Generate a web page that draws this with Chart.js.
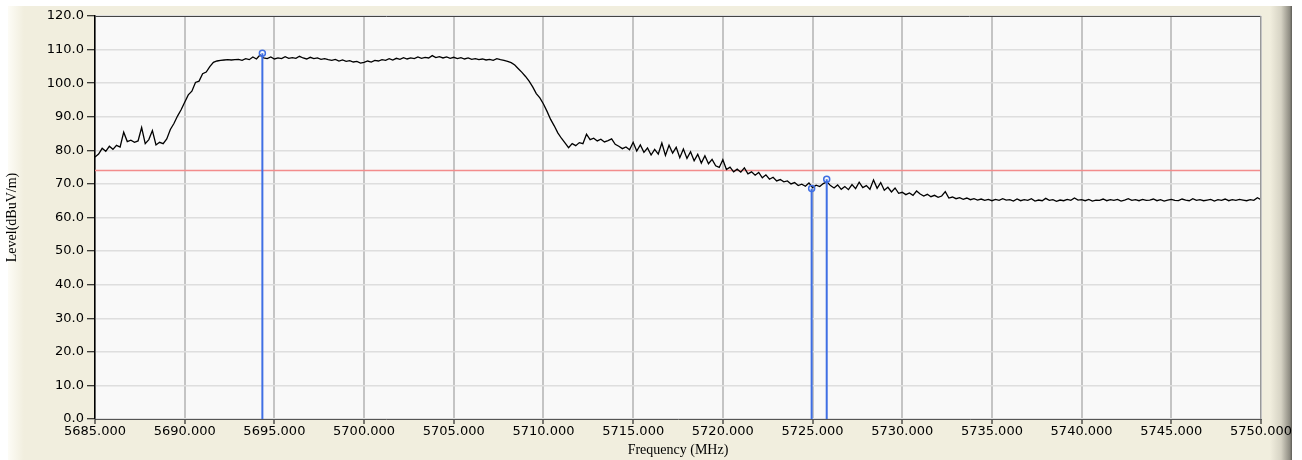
<!DOCTYPE html>
<html>
<head>
<meta charset="utf-8">
<script src="https://cdn.jsdelivr.net/npm/chart.js@4.4.1/dist/chart.umd.min.js"></script>
<style>
  html, body { margin: 0; padding: 0; background: #fff; }
  #wrap { width: 1302px; height: 460px; }
</style>
</head>
<body>
<div id="wrap"><canvas id="spectrum" width="1302" height="460"></canvas></div>
<script>
// trace sampled every 0.2 MHz from 5685.000 to 5750.000
const freqStart = 5685;
const freqStep = 0.2;
const levels = [
  78.0, 78.9, 80.6, 79.7, 81.2,
  80.3, 81.5, 81.0, 85.4, 82.6,
  83.0, 82.4, 82.8, 86.8, 82.0,
  83.2, 85.9, 81.6, 82.4, 82.0,
  83.4, 86.2, 88.0, 90.2, 92.1,
  94.3, 96.5, 97.6, 100.2, 100.6,
  102.8, 103.3, 104.9, 106.2, 106.6,
  106.8, 106.9, 107.0, 106.9, 107.0,
  107.1, 106.8, 107.3, 107.0, 107.8,
  107.2, 108.4, 107.5, 107.3, 107.8,
  107.2, 107.5, 107.3, 107.9, 107.4,
  107.6, 107.4, 108.0, 107.5, 107.2,
  107.7, 107.3, 107.5, 107.1, 107.3,
  107.0, 106.8, 107.1, 106.6, 106.9,
  106.5, 106.7, 106.3, 106.5, 106.0,
  106.2, 106.6, 106.3, 106.8, 106.6,
  107.0, 106.8, 107.3, 106.9, 107.4,
  107.1, 107.6, 107.2, 107.5, 107.3,
  107.8, 107.4, 107.7, 107.5, 108.2,
  107.6, 107.9, 107.5, 107.8, 107.4,
  107.7, 107.3, 107.6, 107.2, 107.5,
  107.1, 107.3, 107.0, 107.2, 106.9,
  107.1, 106.8, 107.3, 107.0, 106.8,
  106.5, 106.1, 105.4, 104.3, 103.2,
  102.0, 100.6, 98.9, 96.9, 95.6,
  93.8, 91.6, 89.2, 87.3, 85.2,
  83.6, 82.2, 80.8, 82.0, 81.4,
  82.3, 82.0, 84.8, 83.2, 83.6,
  82.8, 83.3, 82.5, 82.9, 83.4,
  81.8, 81.2, 80.5, 81.0, 80.2,
  82.4, 79.8, 81.6, 79.4, 80.7,
  78.6, 80.3, 78.9, 82.2, 78.5,
  81.5, 79.2, 80.9, 77.8, 80.4,
  77.6, 79.6, 76.9, 78.8, 76.2,
  78.4, 76.0, 77.3, 75.4, 74.9,
  77.2, 74.3, 75.0, 73.6, 74.4,
  73.5, 74.8, 73.0, 73.6, 72.6,
  73.4, 71.8, 72.7, 71.4, 72.0,
  70.9, 71.3, 70.6, 70.9, 70.0,
  70.4, 69.5, 69.9, 69.3, 70.3,
  68.9, 69.6, 69.2, 70.1, 70.6,
  69.5, 68.8, 69.7, 68.4, 69.2,
  68.3, 69.8, 68.6, 70.5, 68.9,
  69.5, 68.4, 71.2, 68.7, 70.4,
  68.1, 69.0, 67.6, 68.8, 67.2,
  67.5, 66.8, 67.3, 66.6, 67.9,
  67.0, 66.4, 66.9, 66.2, 66.6,
  66.0, 66.4, 67.7, 65.8, 66.1,
  65.6, 65.9, 65.4, 65.8, 65.3,
  65.6, 65.2, 65.5, 65.1, 65.4,
  65.0, 65.4, 65.1, 65.6, 65.2,
  65.3, 64.9, 65.5, 65.0, 65.3,
  65.1, 65.6, 64.9, 65.2, 65.0,
  65.7, 65.1, 65.3, 64.8, 65.2,
  65.0, 65.4, 65.1, 65.8, 65.2,
  65.3, 65.0, 65.4, 64.9, 65.2,
  65.1, 65.5, 65.0, 65.3, 65.1,
  65.4, 64.9, 65.2, 65.6, 65.1,
  65.3, 65.0, 65.4, 65.1, 65.2,
  65.5, 65.0, 65.3, 64.9, 65.2,
  65.4, 65.1, 65.0, 65.5, 65.2,
  65.0, 65.6, 65.1, 65.3, 65.0,
  65.2, 65.4, 64.9, 65.3, 65.1,
  65.5, 65.0, 65.3, 65.1, 65.4,
  65.2, 65.0, 65.3, 65.1, 65.9,
  65.3
];

const markerFreqs = [5694.33, 5724.95, 5725.79];
const markerLevels = [108.9, 68.6, 71.4];

const limitLevel = 74.0;

const xTicks = [5685, 5690, 5695, 5700, 5705, 5710, 5715, 5720, 5725, 5730, 5735, 5740, 5745, 5750];
const yTicks = [0, 10, 20, 30, 40, 50, 60, 70, 80, 90, 100, 110, 120];

const freqs = levels.map((_, i) => +(freqStart + i * freqStep).toFixed(1));
const trace = levels.map((v, i) => ({ x: freqs[i], y: v }));

const BLUE = '#3f6fe4';

let datasets = [];
markerFreqs.forEach((f, i) => {
  datasets.push({
    data: [{ x: f, y: 0 }, { x: f, y: markerLevels[i] }],
    borderColor: BLUE,
    borderWidth: 2,
    pointRadius: [0, 3],
    pointBorderColor: BLUE,
    pointBackgroundColor: 'rgba(0,0,0,0)',
    pointBorderWidth: 1.5,
    order: 1
  });
});
datasets.push({
  data: [{ x: xTicks[0], y: limitLevel }, { x: xTicks[xTicks.length - 1], y: limitLevel }],
  borderColor: '#f28c8c',
  borderWidth: 1.5,
  pointRadius: 0,
  order: 3
});
datasets.push({
  data: trace,
  borderColor: '#000',
  borderWidth: 1.3,
  pointRadius: 0,
  order: 2
});

// beige panel, plot background and box
const frame = {
  id: 'frame',
  beforeDraw(chart) {
    const ctx = chart.ctx;
    const a = chart.chartArea;
    ctx.save();
    ctx.fillStyle = '#fff';
    ctx.fillRect(0, 0, chart.width, chart.height);
    ctx.fillStyle = '#f1eede';
    ctx.fillRect(8, 6, 1262, chart.height - 6);
    let g = ctx.createLinearGradient(8, 0, 24, 0);
    g.addColorStop(0, '#fdfcf6');
    g.addColorStop(1, '#f1eede');
    ctx.fillStyle = g;
    ctx.fillRect(8, 6, 16, chart.height - 6);
    g = ctx.createLinearGradient(1270, 0, 1292, 0);
    g.addColorStop(0, '#f1eede');
    g.addColorStop(0.5, '#d6d3c4');
    g.addColorStop(0.9, '#8e8c82');
    g.addColorStop(1, '#5c5b55');
    ctx.fillStyle = g;
    ctx.fillRect(1270, 6, 22, chart.height - 6);
    ctx.fillStyle = '#f9f9f9';
    ctx.fillRect(a.left, a.top, a.right - a.left, a.bottom - a.top);
    ctx.restore();
  },
  afterDraw(chart) {
    const ctx = chart.ctx;
    const a = chart.chartArea;
    ctx.save();
    ctx.lineWidth = 1;
    ctx.strokeStyle = '#444';
    ctx.beginPath();
    ctx.moveTo(a.left, a.top + 0.5);
    ctx.lineTo(a.right, a.top + 0.5);
    ctx.stroke();
    ctx.strokeStyle = '#999';
    ctx.beginPath();
    ctx.moveTo(a.right - 0.5, a.top);
    ctx.lineTo(a.right - 0.5, a.bottom);
    ctx.stroke();
    ctx.restore();
  }
};

new Chart(document.getElementById('spectrum'), {
  type: 'line',
  data: { datasets: datasets },
  plugins: [frame],
  options: {
    responsive: false,
    animation: false,
    events: [],
    layout: { padding: { left: 4, right: 41, top: 16, bottom: 0 } },
    plugins: { legend: { display: false }, tooltip: { enabled: false } },
    elements: { line: { tension: 0 } },
    scales: {
      x: {
        type: 'linear',
        min: xTicks[0],
        max: xTicks[xTicks.length - 1],
        afterFit: s => { s.height = 41; },
        afterBuildTicks: s => { s.ticks = xTicks.map(v => ({ value: v })); },
        grid: { color: '#c4c4c4', lineWidth: 2, tickColor: '#000', tickWidth: 1, tickLength: 5 },
        border: { color: '#555', width: 1 },
        ticks: {
          padding: 0,
          maxRotation: 0,
          color: '#000',
          font: { family: 'DejaVu Sans', size: 13 },
          callback: v => v.toFixed(3)
        },
        title: {
          display: true,
          text: 'Frequency (MHz)',
          color: '#000',
          font: { family: 'Liberation Serif', size: 14 },
          padding: { top: 0, bottom: 1 }
        }
      },
      y: {
        min: yTicks[0],
        max: yTicks[yTicks.length - 1],
        afterFit: s => { s.width = 91; },
        afterBuildTicks: s => { s.ticks = yTicks.map(v => ({ value: v })); },
        grid: { color: '#dedede', lineWidth: 1.5, tickColor: '#000', tickWidth: 1, tickLength: 8 },
        border: { color: '#000', width: 1.5 },
        ticks: {
          padding: 3,
          color: '#000',
          font: { family: 'DejaVu Sans', size: 13 },
          callback: v => v.toFixed(1)
        },
        title: {
          display: true,
          text: 'Level(dBuV/m)',
          color: '#000',
          font: { family: 'Liberation Serif', size: 14 },
          padding: { top: 0, bottom: 0 }
        }
      }
    }
  }
});
</script>
</body>
</html>
